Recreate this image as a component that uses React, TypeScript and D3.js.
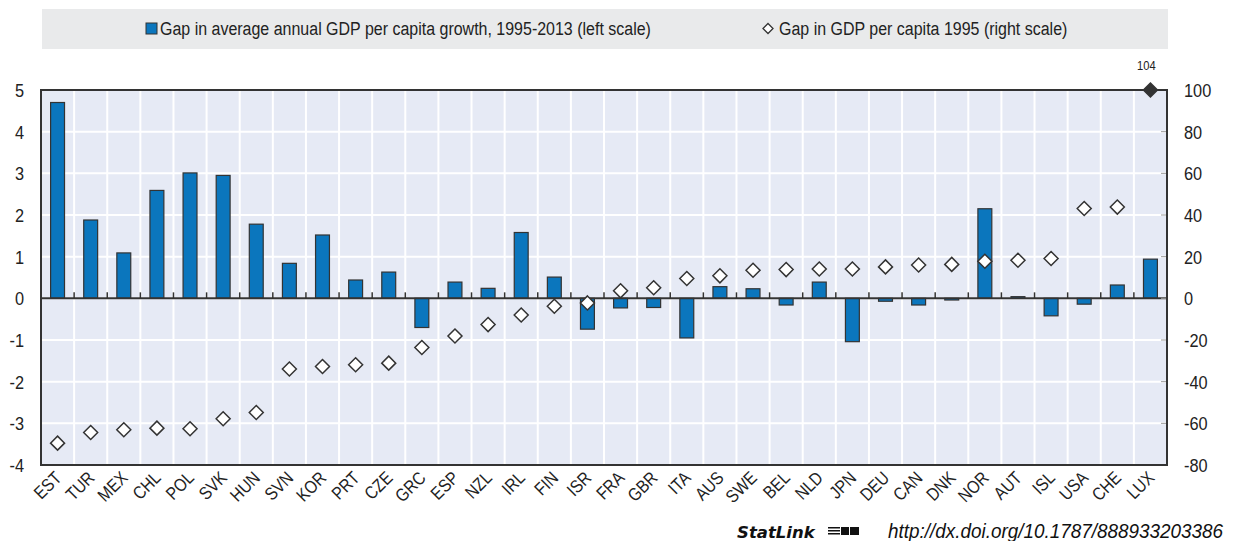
import * as d3 from 'd3';

// OECD countries, sorted by gap in GDP per capita in 1995
const countries = [
  'EST', 'TUR', 'MEX', 'CHL', 'POL', 'SVK', 'HUN', 'SVN', 'KOR', 'PRT', 'CZE', 'GRC',
  'ESP', 'NZL', 'IRL', 'FIN', 'ISR', 'FRA', 'GBR', 'ITA', 'AUS', 'SWE', 'BEL', 'NLD',
  'JPN', 'DEU', 'CAN', 'DNK', 'NOR', 'AUT', 'ISL', 'USA', 'CHE', 'LUX',
];
// gap in average annual GDP per capita growth 1995-2013 (left scale)
const growthGap = [
  4.7, 1.88, 1.09, 2.59, 3.01, 2.95, 1.78, 0.84, 1.52, 0.44, 0.63, -0.7,
  0.39, 0.24, 1.58, 0.51, -0.74, -0.23, -0.22, -0.95, 0.28, 0.23, -0.16, 0.39,
  -1.04, -0.07, -0.16, -0.04, 2.15, 0.04, -0.42, -0.14, 0.32, 0.94,
];
// gap in GDP per capita 1995 (right scale)
const levelGap = [
  -69.5, -64.4, -63.1, -62.3, -62.6, -57.8, -54.8, -33.9, -32.7, -31.9, -31.1, -23.6,
  -18.1, -12.6, -8.0, -3.8, -2.2, 3.6, 5.1, 9.5, 10.8, 13.5, 13.8, 14.1,
  14.1, 15.1, 16.0, 16.3, 17.8, 18.3, 19.1, 43.1, 43.8, 104,
];
const leftTicks = [5, 4, 3, 2, 1, 0, -1, -2, -3, -4];
const rightTicks = [100, 80, 60, 40, 20, 0, -20, -40, -60, -80];

const legendBar = 'Gap in average annual GDP per capita growth, 1995-2013 (left scale)';
const legendDot = 'Gap in GDP per capita 1995 (right scale)';

const width = 1234;
const height = 541;
const plot = { left: 41, right: 1167, top: 90, bottom: 465 };

const font = '"Liberation Sans", Arial, sans-serif';
const blue = '#0b76bd';
const dark = '#333333';
const squeeze = 0.86; // the original uses a condensed face

// condensed text: no narrow font installed, so squash a regular one
function T({ x, y, rot = 0, size, anchor = 'start', sx = squeeze, children, ...rest }: any) {
  return (
    <text transform={`translate(${x},${y}) rotate(${rot}) scale(${sx},1)`} fontSize={size}
      textAnchor={anchor} fill="#222" {...rest}>{children}</text>
  );
}

function App() {
  const x = d3.scaleBand<string>().domain(countries).range([plot.left, plot.right]);
  const yL = d3.scaleLinear().domain([-4, 5]).range([plot.bottom, plot.top]);
  const yR = d3.scaleLinear().domain([-80, 100]).range([plot.bottom, plot.top]);
  const bw = x.bandwidth() * 0.42;
  const mid = (c: string) => (x(c) as number) + x.bandwidth() / 2;
  const diamond = (cx: number, cy: number, r: number) =>
    `M${cx},${cy - r}L${cx + r},${cy}L${cx},${cy + r}L${cx - r},${cy}Z`;

  return (
    <svg width={width} height={height} style={{ position: 'absolute', left: 0, top: 0 }} fontFamily={font}>
      {/* legend */}
      <rect x={42} y={9} width={1126} height={40} fill="#e9eaeb" />
      <rect x={146} y={23} width={11} height={11} fill={blue} stroke={dark} strokeWidth={1} />
      <T x={160} y={35} size={18.6}>{legendBar}</T>
      <path d={diamond(768, 28.5, 5)} fill="#fff" stroke={dark} strokeWidth={1.3} />
      <T x={779} y={35} size={18.6}>{legendDot}</T>

      {/* plot background */}
      <rect x={plot.left} y={plot.top} width={plot.right - plot.left} height={plot.bottom - plot.top} fill="#e6eaf5" />
      {leftTicks.map(t => (
        <line key={'h' + t} x1={plot.left} x2={plot.right} y1={yL(t)} y2={yL(t)} stroke="#fff" strokeWidth={2} />
      ))}
      {countries.slice(1).map(c => (
        <line key={'v' + c} x1={x(c)} x2={x(c)} y1={plot.top} y2={plot.bottom} stroke="#fff" strokeWidth={2} />
      ))}

      {/* bars */}
      {countries.map((c, i) => {
        const v = growthGap[i];
        return (
          <rect key={'b' + c} x={mid(c) - bw / 2} y={Math.min(yL(v), yL(0))} width={bw}
            height={Math.abs(yL(v) - yL(0))} fill={blue} stroke={dark} strokeWidth={1.2} />
        );
      })}

      {/* zero line and category ticks */}
      <line x1={plot.left} x2={plot.right} y1={yL(0)} y2={yL(0)} stroke={dark} strokeWidth={2} />
      {countries.slice(1).map(c => (
        <line key={'t' + c} x1={x(c)} x2={x(c)} y1={yL(0) - 6} y2={yL(0)} stroke={dark} strokeWidth={1.5} />
      ))}

      {/* right scale ticks */}
      {rightTicks.map(t => (
        <line key={'rt' + t} x1={plot.right - 6} x2={plot.right} y1={yR(t)} y2={yR(t)} stroke="#999" strokeWidth={1} />
      ))}

      {/* axes frame */}
      <rect x={plot.left} y={plot.top} width={plot.right - plot.left} height={plot.bottom - plot.top}
        fill="none" stroke={dark} strokeWidth={2} />

      {/* diamonds */}
      {countries.map((c, i) => {
        const v = levelGap[i];
        const over = v > 100;
        return (
          <g key={'d' + c}>
            <path d={diamond(mid(c), yR(Math.min(v, 100)), 7)} fill={over ? dark : '#fff'} stroke={dark} strokeWidth={1.5} />
            {over && <T x={mid(c) - 4} y={70} size={13} anchor="middle">{v}</T>}
          </g>
        );
      })}

      {/* left axis labels */}
      {leftTicks.map(t => (
        <T key={'lt' + t} x={24} y={yL(t) + 7} size={19} anchor="end">{t}</T>
      ))}
      {/* right axis labels */}
      {rightTicks.map(t => (
        <T key={'rl' + t} x={1184} y={yR(t) + 7} size={19}>{t}</T>
      ))}

      {/* category labels */}
      {countries.map(c => (
        <T key={'xl' + c} x={mid(c) + 5} y={plot.bottom + 14} rot={-45} size={18} anchor="end">{c}</T>
      ))}

      {/* StatLink footer */}
      <text x={737} y={538} fontSize={16.5} fontWeight="bold" fontStyle="italic" fontFamily="'DejaVu Sans', sans-serif" fill="#111">StatLink</text>
      <g transform="translate(828,527)" fill="#111">
        {[0, 3, 6].map(dy => (
          <rect key={dy} x={0} y={dy} width={12} height={1.5} />
        ))}
        <rect x={13} y={0} width={8} height={8} />
        <rect x={22} y={0} width={9} height={8} />
      </g>
      <T x={888} y={538} size={21} sx={0.9} fontStyle="italic" fill="#111">http://dx.doi.org/10.1787/888933203386</T>
    </svg>
  );
}

export default App;
